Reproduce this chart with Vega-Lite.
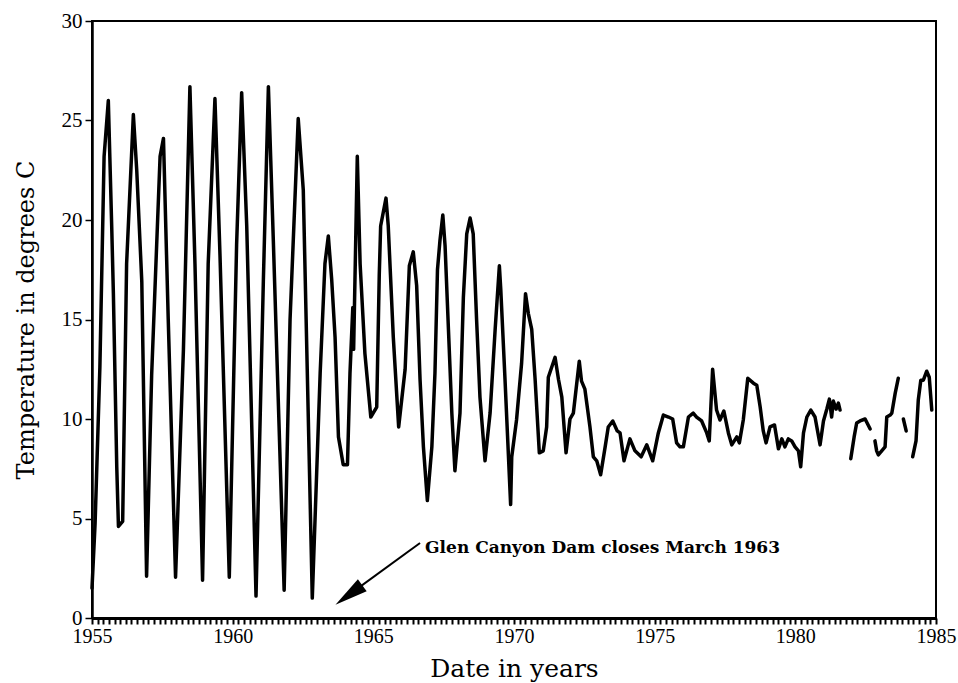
{
  "$schema": "https://vega.github.io/schema/vega-lite/v6.json",
  "width": 844,
  "height": 597,
  "autosize": {"type": "none"},
  "padding": {"left": 92, "top": 21, "right": 22, "bottom": 65},
  "background": "white",
  "config": {"view": {"stroke": "black", "strokeWidth": 2}, "font": "Liberation Serif"},
  "datasets": {
    "temps": [
      {"year": 1955.0, "temp": 1.5, "seg": 1},
      {"year": 1955.11, "temp": 4.75, "seg": 1},
      {"year": 1955.28, "temp": 12.6, "seg": 1},
      {"year": 1955.43, "temp": 23.2, "seg": 1},
      {"year": 1955.58, "temp": 26.0, "seg": 1},
      {"year": 1955.70, "temp": 19.7, "seg": 1},
      {"year": 1955.76, "temp": 16.3, "seg": 1},
      {"year": 1955.88, "temp": 7.6, "seg": 1},
      {"year": 1955.94, "temp": 4.6, "seg": 1},
      {"year": 1956.09, "temp": 4.85, "seg": 1},
      {"year": 1956.23, "temp": 17.8, "seg": 1},
      {"year": 1956.41, "temp": 23.4, "seg": 1},
      {"year": 1956.47, "temp": 25.3, "seg": 1},
      {"year": 1956.59, "temp": 22.5, "seg": 1},
      {"year": 1956.77, "temp": 16.9, "seg": 1},
      {"year": 1956.94, "temp": 2.1, "seg": 1},
      {"year": 1957.12, "temp": 12.2, "seg": 1},
      {"year": 1957.42, "temp": 23.2, "seg": 1},
      {"year": 1957.54, "temp": 24.1, "seg": 1},
      {"year": 1957.71, "temp": 15.0, "seg": 1},
      {"year": 1957.97, "temp": 2.05, "seg": 1},
      {"year": 1958.25, "temp": 13.5, "seg": 1},
      {"year": 1958.48, "temp": 26.7, "seg": 1},
      {"year": 1958.66, "temp": 17.8, "seg": 1},
      {"year": 1958.93, "temp": 1.9, "seg": 1},
      {"year": 1959.13, "temp": 17.8, "seg": 1},
      {"year": 1959.37, "temp": 26.1, "seg": 1},
      {"year": 1959.55, "temp": 18.2, "seg": 1},
      {"year": 1959.88, "temp": 2.05, "seg": 1},
      {"year": 1960.14, "temp": 18.75, "seg": 1},
      {"year": 1960.32, "temp": 26.4, "seg": 1},
      {"year": 1960.50, "temp": 19.7, "seg": 1},
      {"year": 1960.83, "temp": 1.1, "seg": 1},
      {"year": 1961.09, "temp": 16.9, "seg": 1},
      {"year": 1961.27, "temp": 26.7, "seg": 1},
      {"year": 1961.45, "temp": 18.75, "seg": 1},
      {"year": 1961.83, "temp": 1.4, "seg": 1},
      {"year": 1962.04, "temp": 15.0, "seg": 1},
      {"year": 1962.33, "temp": 25.1, "seg": 1},
      {"year": 1962.51, "temp": 21.5, "seg": 1},
      {"year": 1962.83, "temp": 1.0, "seg": 1},
      {"year": 1963.11, "temp": 12.3, "seg": 1},
      {"year": 1963.28, "temp": 17.8, "seg": 1},
      {"year": 1963.40, "temp": 19.2, "seg": 1},
      {"year": 1963.52, "temp": 17.0, "seg": 1},
      {"year": 1963.64, "temp": 14.1, "seg": 1},
      {"year": 1963.76, "temp": 9.1, "seg": 1},
      {"year": 1963.93, "temp": 7.7, "seg": 1},
      {"year": 1964.08, "temp": 7.7, "seg": 1},
      {"year": 1964.17, "temp": 12.3, "seg": 1},
      {"year": 1964.27, "temp": 15.6, "seg": 1},
      {"year": 1964.30, "temp": 13.5, "seg": 1},
      {"year": 1964.43, "temp": 23.2, "seg": 1},
      {"year": 1964.53, "temp": 17.8, "seg": 1},
      {"year": 1964.70, "temp": 13.3, "seg": 1},
      {"year": 1964.91, "temp": 10.1, "seg": 1},
      {"year": 1965.12, "temp": 10.6, "seg": 1},
      {"year": 1965.21, "temp": 17.2, "seg": 1},
      {"year": 1965.26, "temp": 19.7, "seg": 1},
      {"year": 1965.45, "temp": 21.1, "seg": 1},
      {"year": 1965.53, "temp": 19.7, "seg": 1},
      {"year": 1965.71, "temp": 14.1, "seg": 1},
      {"year": 1965.90, "temp": 9.6, "seg": 1},
      {"year": 1966.13, "temp": 12.5, "seg": 1},
      {"year": 1966.28, "temp": 17.7, "seg": 1},
      {"year": 1966.42, "temp": 18.4, "seg": 1},
      {"year": 1966.54, "temp": 16.7, "seg": 1},
      {"year": 1966.66, "temp": 12.0, "seg": 1},
      {"year": 1966.78, "temp": 8.6, "seg": 1},
      {"year": 1966.92, "temp": 5.9, "seg": 1},
      {"year": 1967.08, "temp": 8.6, "seg": 1},
      {"year": 1967.19, "temp": 12.3, "seg": 1},
      {"year": 1967.28, "temp": 17.5, "seg": 1},
      {"year": 1967.37, "temp": 19.0, "seg": 1},
      {"year": 1967.47, "temp": 20.25, "seg": 1},
      {"year": 1967.55, "temp": 18.7, "seg": 1},
      {"year": 1967.67, "temp": 14.5, "seg": 1},
      {"year": 1967.79, "temp": 10.3, "seg": 1},
      {"year": 1967.90, "temp": 7.4, "seg": 1},
      {"year": 1968.08, "temp": 10.3, "seg": 1},
      {"year": 1968.20, "temp": 16.1, "seg": 1},
      {"year": 1968.32, "temp": 19.3, "seg": 1},
      {"year": 1968.44, "temp": 20.1, "seg": 1},
      {"year": 1968.55, "temp": 19.3, "seg": 1},
      {"year": 1968.67, "temp": 15.0, "seg": 1},
      {"year": 1968.79, "temp": 11.1, "seg": 1},
      {"year": 1968.97, "temp": 7.9, "seg": 1},
      {"year": 1969.15, "temp": 10.3, "seg": 1},
      {"year": 1969.33, "temp": 14.5, "seg": 1},
      {"year": 1969.48, "temp": 17.7, "seg": 1},
      {"year": 1969.53, "temp": 16.5, "seg": 1},
      {"year": 1969.68, "temp": 12.0, "seg": 1},
      {"year": 1969.88, "temp": 5.7, "seg": 1},
      {"year": 1969.92, "temp": 8.1, "seg": 1},
      {"year": 1970.09, "temp": 9.95, "seg": 1},
      {"year": 1970.27, "temp": 12.8, "seg": 1},
      {"year": 1970.41, "temp": 16.3, "seg": 1},
      {"year": 1970.51, "temp": 15.3, "seg": 1},
      {"year": 1970.63, "temp": 14.5, "seg": 1},
      {"year": 1970.75, "temp": 12.0, "seg": 1},
      {"year": 1970.90, "temp": 8.3, "seg": 1},
      {"year": 1971.04, "temp": 8.4, "seg": 1},
      {"year": 1971.16, "temp": 9.6, "seg": 1},
      {"year": 1971.22, "temp": 12.1, "seg": 1},
      {"year": 1971.46, "temp": 13.1, "seg": 1},
      {"year": 1971.58, "temp": 12.0, "seg": 1},
      {"year": 1971.70, "temp": 11.1, "seg": 1},
      {"year": 1971.85, "temp": 8.3, "seg": 1},
      {"year": 1971.99, "temp": 10.0, "seg": 1},
      {"year": 1972.11, "temp": 10.3, "seg": 1},
      {"year": 1972.32, "temp": 12.9, "seg": 1},
      {"year": 1972.40, "temp": 11.9, "seg": 1},
      {"year": 1972.52, "temp": 11.5, "seg": 1},
      {"year": 1972.70, "temp": 9.6, "seg": 1},
      {"year": 1972.82, "temp": 8.1, "seg": 1},
      {"year": 1972.94, "temp": 7.9, "seg": 1},
      {"year": 1973.08, "temp": 7.2, "seg": 1},
      {"year": 1973.24, "temp": 8.6, "seg": 1},
      {"year": 1973.35, "temp": 9.6, "seg": 1},
      {"year": 1973.51, "temp": 9.9, "seg": 1},
      {"year": 1973.67, "temp": 9.4, "seg": 1},
      {"year": 1973.77, "temp": 9.3, "seg": 1},
      {"year": 1973.91, "temp": 7.9, "seg": 1},
      {"year": 1974.12, "temp": 9.0, "seg": 1},
      {"year": 1974.30, "temp": 8.4, "seg": 1},
      {"year": 1974.52, "temp": 8.1, "seg": 1},
      {"year": 1974.72, "temp": 8.7, "seg": 1},
      {"year": 1974.93, "temp": 7.9, "seg": 1},
      {"year": 1975.13, "temp": 9.3, "seg": 1},
      {"year": 1975.31, "temp": 10.2, "seg": 1},
      {"year": 1975.49, "temp": 10.1, "seg": 1},
      {"year": 1975.64, "temp": 10.0, "seg": 1},
      {"year": 1975.78, "temp": 8.8, "seg": 1},
      {"year": 1975.90, "temp": 8.6, "seg": 1},
      {"year": 1976.02, "temp": 8.6, "seg": 1},
      {"year": 1976.20, "temp": 10.1, "seg": 1},
      {"year": 1976.37, "temp": 10.3, "seg": 1},
      {"year": 1976.49, "temp": 10.1, "seg": 1},
      {"year": 1976.67, "temp": 9.9, "seg": 1},
      {"year": 1976.85, "temp": 9.3, "seg": 1},
      {"year": 1976.94, "temp": 8.9, "seg": 1},
      {"year": 1977.06, "temp": 12.5, "seg": 1},
      {"year": 1977.20, "temp": 10.45, "seg": 1},
      {"year": 1977.32, "temp": 9.95, "seg": 1},
      {"year": 1977.46, "temp": 10.4, "seg": 1},
      {"year": 1977.62, "temp": 9.3, "seg": 1},
      {"year": 1977.74, "temp": 8.7, "seg": 1},
      {"year": 1977.92, "temp": 9.1, "seg": 1},
      {"year": 1978.01, "temp": 8.8, "seg": 1},
      {"year": 1978.15, "temp": 9.95, "seg": 1},
      {"year": 1978.31, "temp": 12.05, "seg": 1},
      {"year": 1978.51, "temp": 11.8, "seg": 1},
      {"year": 1978.63, "temp": 11.7, "seg": 1},
      {"year": 1978.75, "temp": 10.6, "seg": 1},
      {"year": 1978.86, "temp": 9.4, "seg": 1},
      {"year": 1978.96, "temp": 8.8, "seg": 1},
      {"year": 1979.10, "temp": 9.6, "seg": 1},
      {"year": 1979.26, "temp": 9.7, "seg": 1},
      {"year": 1979.40, "temp": 8.5, "seg": 1},
      {"year": 1979.52, "temp": 9.0, "seg": 1},
      {"year": 1979.63, "temp": 8.6, "seg": 1},
      {"year": 1979.75, "temp": 9.0, "seg": 1},
      {"year": 1979.87, "temp": 8.9, "seg": 1},
      {"year": 1979.99, "temp": 8.6, "seg": 1},
      {"year": 1980.11, "temp": 8.4, "seg": 1},
      {"year": 1980.19, "temp": 7.6, "seg": 1},
      {"year": 1980.29, "temp": 9.3, "seg": 1},
      {"year": 1980.41, "temp": 10.1, "seg": 1},
      {"year": 1980.55, "temp": 10.45, "seg": 1},
      {"year": 1980.70, "temp": 10.1, "seg": 1},
      {"year": 1980.88, "temp": 8.7, "seg": 1},
      {"year": 1981.00, "temp": 9.9, "seg": 1},
      {"year": 1981.12, "temp": 10.5, "seg": 1},
      {"year": 1981.21, "temp": 11.0, "seg": 1},
      {"year": 1981.29, "temp": 10.1, "seg": 1},
      {"year": 1981.35, "temp": 10.9, "seg": 1},
      {"year": 1981.45, "temp": 10.5, "seg": 1},
      {"year": 1981.53, "temp": 10.8, "seg": 1},
      {"year": 1981.59, "temp": 10.45, "seg": 1},
      {"year": 1981.97, "temp": 8.0, "seg": 2},
      {"year": 1982.09, "temp": 9.1, "seg": 2},
      {"year": 1982.18, "temp": 9.8, "seg": 2},
      {"year": 1982.30, "temp": 9.9, "seg": 2},
      {"year": 1982.48, "temp": 10.0, "seg": 2},
      {"year": 1982.66, "temp": 9.5, "seg": 2},
      {"year": 1982.83, "temp": 8.9, "seg": 3},
      {"year": 1982.89, "temp": 8.4, "seg": 3},
      {"year": 1982.95, "temp": 8.2, "seg": 3},
      {"year": 1983.07, "temp": 8.4, "seg": 3},
      {"year": 1983.19, "temp": 8.6, "seg": 3},
      {"year": 1983.25, "temp": 10.1, "seg": 3},
      {"year": 1983.37, "temp": 10.2, "seg": 3},
      {"year": 1983.43, "temp": 10.3, "seg": 3},
      {"year": 1983.55, "temp": 11.3, "seg": 3},
      {"year": 1983.66, "temp": 12.05, "seg": 3},
      {"year": 1983.84, "temp": 10.0, "seg": 4},
      {"year": 1983.94, "temp": 9.4, "seg": 4},
      {"year": 1984.17, "temp": 8.1, "seg": 5},
      {"year": 1984.29, "temp": 8.9, "seg": 5},
      {"year": 1984.37, "temp": 10.95, "seg": 5},
      {"year": 1984.46, "temp": 11.95, "seg": 5},
      {"year": 1984.55, "temp": 11.95, "seg": 5},
      {"year": 1984.67, "temp": 12.4, "seg": 5},
      {"year": 1984.76, "temp": 12.1, "seg": 5},
      {"year": 1984.85, "temp": 10.45, "seg": 5}
    ],
    "note": [
      {"year": 1966.84, "temp": 3.27, "label": "Glen Canyon Dam closes March 1963", "year0": 1966.66, "temp0": 3.77, "year1": 1964.13, "temp1": 1.16}
    ]
  },
  "layer": [
    {
      "data": {"name": "temps"},
      "mark": {"type": "line", "color": "black", "strokeWidth": 3.5, "strokeJoin": "round", "strokeCap": "round"},
      "encoding": {
        "x": {
          "field": "year", "type": "quantitative",
          "scale": {"domain": [1955, 1985], "nice": false, "zero": false},
          "axis": {
            "title": "Date in years",
            "tickCount": 151,
            "values": [1955,1955.2,1955.4,1955.6,1955.8,
              1956,1956.2,1956.4,1956.6,1956.8,
              1957,1957.2,1957.4,1957.6,1957.8,
              1958,1958.2,1958.4,1958.6,1958.8,
              1959,1959.2,1959.4,1959.6,1959.8,
              1960,1960.2,1960.4,1960.6,1960.8,
              1961,1961.2,1961.4,1961.6,1961.8,
              1962,1962.2,1962.4,1962.6,1962.8,
              1963,1963.2,1963.4,1963.6,1963.8,
              1964,1964.2,1964.4,1964.6,1964.8,
              1965,1965.2,1965.4,1965.6,1965.8,
              1966,1966.2,1966.4,1966.6,1966.8,
              1967,1967.2,1967.4,1967.6,1967.8,
              1968,1968.2,1968.4,1968.6,1968.8,
              1969,1969.2,1969.4,1969.6,1969.8,
              1970,1970.2,1970.4,1970.6,1970.8,
              1971,1971.2,1971.4,1971.6,1971.8,
              1972,1972.2,1972.4,1972.6,1972.8,
              1973,1973.2,1973.4,1973.6,1973.8,
              1974,1974.2,1974.4,1974.6,1974.8,
              1975,1975.2,1975.4,1975.6,1975.8,
              1976,1976.2,1976.4,1976.6,1976.8,
              1977,1977.2,1977.4,1977.6,1977.8,
              1978,1978.2,1978.4,1978.6,1978.8,
              1979,1979.2,1979.4,1979.6,1979.8,
              1980,1980.2,1980.4,1980.6,1980.8,
              1981,1981.2,1981.4,1981.6,1981.8,
              1982,1982.2,1982.4,1982.6,1982.8,
              1983,1983.2,1983.4,1983.6,1983.8,
              1984,1984.2,1984.4,1984.6,1984.8,
              1985],
            "labelExpr": "datum.value % 5 === 0 ? format(datum.value, 'd') : ''",
            "labelOverlap": false, "labelFlush": false, "labelBound": false, "grid": false,
            "ticks": true, "tickSize": 6, "tickWidth": 2, "tickColor": "black", "tickOpacity": 1,
            "domainColor": "black", "domainWidth": 3,
            "labelFont": "Liberation Serif", "labelFontSize": 20, "labelColor": "black", "labelPadding": 2,
            "titleFont": "DejaVu Serif", "titleFontSize": 25, "titleFontWeight": "normal", "titleColor": "black",
            "titleY": 50, "titleBaseline": "middle"
          }
        },
        "y": {
          "field": "temp", "type": "quantitative",
          "scale": {"domain": [0, 30], "nice": false},
          "axis": {
            "title": "Temperature in degrees C", "values": [0, 5, 10, 15, 20, 25, 30],
            "grid": false, "tickSize": 7, "tickWidth": 1.5, "tickColor": "black",
            "domainColor": "black", "domainWidth": 2.5,
            "labelFont": "Liberation Serif", "labelFontSize": 21, "labelColor": "black", "labelPadding": 3,
            "titleFont": "DejaVu Serif", "titleFontSize": 24, "titleFontWeight": "normal", "titleColor": "black",
            "titleX": -66, "titleBaseline": "middle"
          }
        },
        "detail": {"field": "seg", "type": "nominal"}
      }
    },
    {
      "data": {"name": "note"},
      "mark": {"type": "rule", "color": "black", "strokeWidth": 2},
      "encoding": {
        "x": {"field": "year0", "type": "quantitative"},
        "y": {"field": "temp0", "type": "quantitative"},
        "x2": {"field": "year1"},
        "y2": {"field": "temp1"}
      }
    },
    {
      "data": {"name": "note"},
      "mark": {"type": "point", "filled": true, "color": "black", "opacity": 1, "size": 1100, "angle": 234, "shape": "M0,-1L0.45,1L-0.45,1Z"},
      "encoding": {
        "x": {"field": "year1", "type": "quantitative"},
        "y": {"field": "temp1", "type": "quantitative"}
      }
    },
    {
      "data": {"name": "note"},
      "mark": {"type": "text", "align": "left", "baseline": "alphabetic", "font": "DejaVu Serif", "fontSize": 17, "fontWeight": "bold", "color": "black"},
      "encoding": {
        "x": {"field": "year", "type": "quantitative"},
        "y": {"field": "temp", "type": "quantitative"},
        "text": {"field": "label"}
      }
    }
  ]
}
